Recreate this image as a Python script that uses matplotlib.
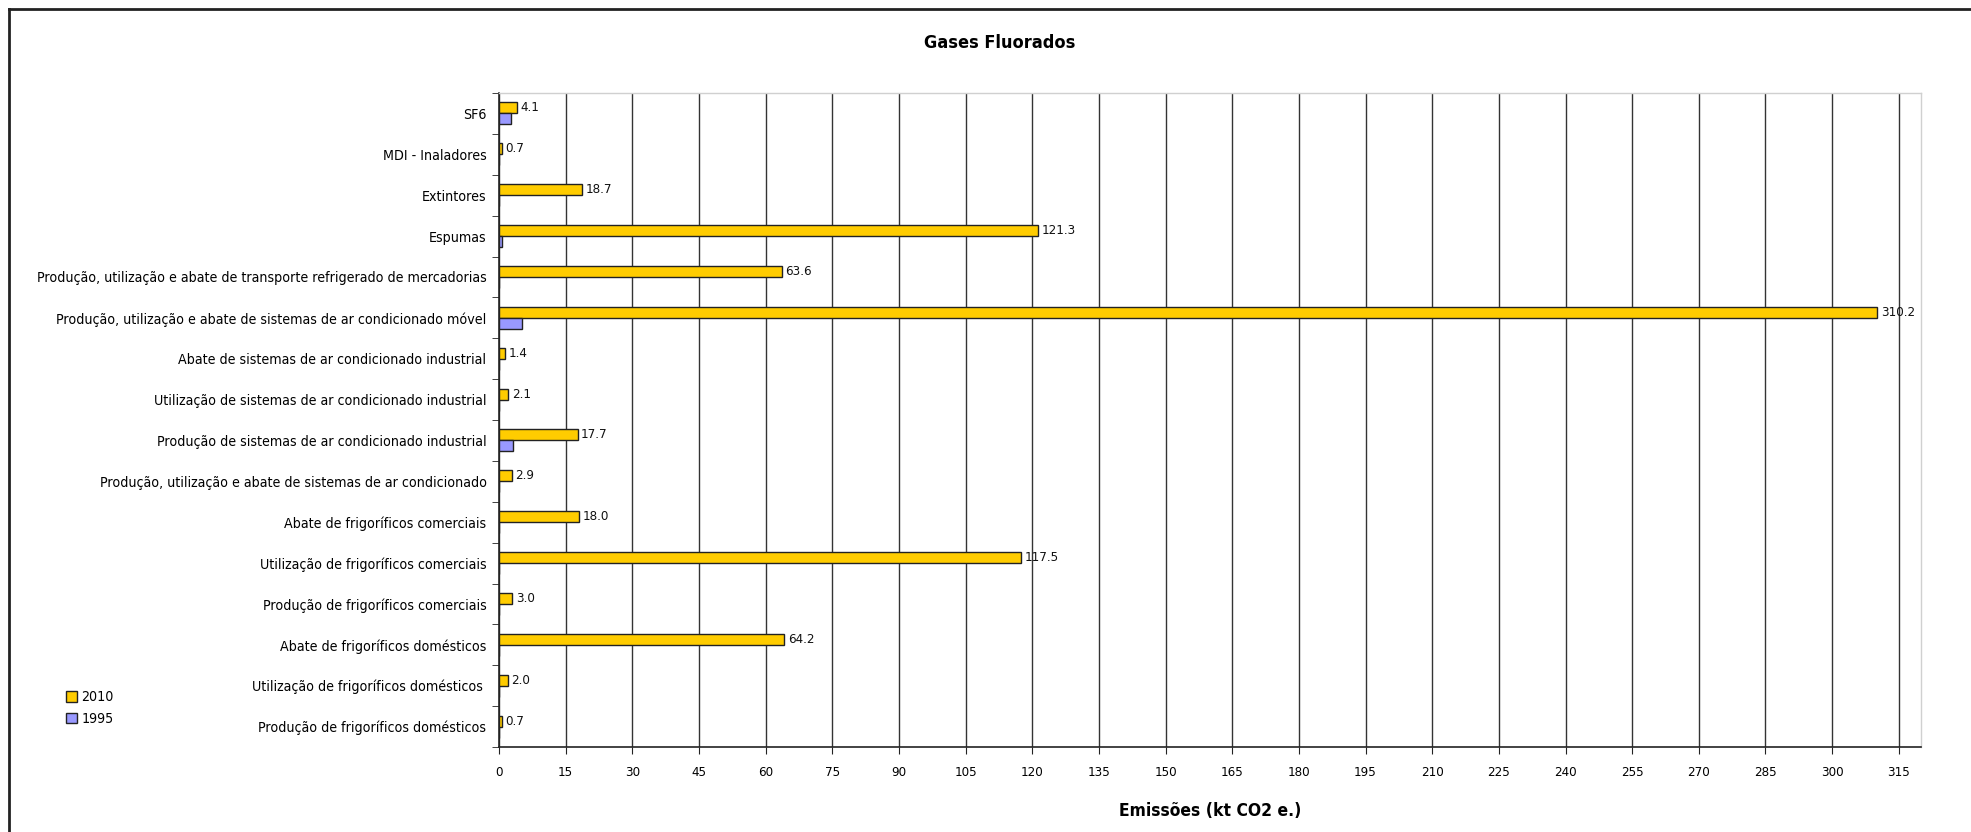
import matplotlib
matplotlib.use("Agg")
import matplotlib.pyplot as plt
from matplotlib.lines import Line2D
from matplotlib.patches import Patch
from matplotlib import font_manager as fm
import numpy as np

categories = [
    "Produção de frigoríficos domésticos",
    "Utilização de frigoríficos domésticos ",
    "Abate de frigoríficos domésticos",
    "Produção de frigoríficos comerciais",
    "Utilização de frigoríficos comerciais",
    "Abate de frigoríficos comerciais",
    "Produção, utilização e abate de sistemas de ar condicionado",
    "Produção de sistemas de ar condicionado industrial",
    "Utilização de sistemas de ar condicionado industrial",
    "Abate de sistemas de ar condicionado industrial",
    "Produção, utilização e abate de sistemas de ar condicionado móvel",
    "Produção, utilização e abate de transporte refrigerado de mercadorias",
    "Espumas",
    "Extintores",
    "MDI - Inaladores",
    "SF6",
]
values_2010 = [0.7, 2.0, 64.2, 3.0, 117.5, 18.0, 2.9, 17.7, 2.1, 1.4, 310.2, 63.6, 121.3, 18.7, 0.7, 4.1]
values_1995 = [0.0, 0.0, 0.0, 0.0, 0.0, 0.0, 0.0, 3.1, 0.0, 0.0, 5.2, 0.0, 0.7, 0.0, 0.0, 2.8]
series_names = ["2010", "1995"]
xticks = list(range(0, 316, 15))

# pick a condensed font if one is installed
cand = None
for f in fm.fontManager.ttflist:
    n = f.name.lower()
    if "narrow" in n or "condensed" in n or f.stretch in ("condensed", "semi-condensed"):
        if "mono" in n or ("serif" in n and "sans" not in n):
            continue
        cand = (f.name, f.stretch)
        if "liberation" in n or "dejavu" in n:
            break
if cand:
    plt.rcParams["font.family"] = [cand[0], "DejaVu Sans"]
    plt.rcParams["font.stretch"] = cand[1]
else:
    plt.rcParams["font.family"] = ["DejaVu Sans"]

W, H = 1971, 832
fig = plt.figure(figsize=(W / 100, H / 100), dpi=100)
ax = fig.add_axes([499 / W, 1 - 747 / H, (1921 - 499) / W, (747 - 93) / H])

# font size so that the longest label spans ~445 px like the reference
renderer = fig.canvas.get_renderer()
longest = max(categories, key=len)
t = fig.text(0, 0, longest, fontsize=12)
wpx = t.get_window_extent(renderer).width
t.remove()
lab_fs = min(12.0, 12.0 * 448.0 / wpx)

y = np.arange(len(categories))
h = 0.27
c2010 = "#FFCC00"
c1995 = "#9999FF"
ax.barh(y + h / 2, values_2010, height=h, color=c2010, edgecolor="#222222", linewidth=1.0, zorder=3)
ax.barh(y - h / 2, values_1995, height=h, color=c1995, edgecolor="#222222", linewidth=1.0, zorder=3)

for yi, v in zip(y, values_2010):
    ax.annotate(f"{v:.1f}", xy=(v, yi + h / 2), xytext=(2.5, 0), textcoords="offset points",
                va="center", ha="left", fontsize=9.5, color="#111111", zorder=4)

ax.set_xlim(0, 320)
ax.set_ylim(-0.5, len(categories) - 0.5)
ax.set_xticks(xticks)
ax.set_xticklabels([str(t) for t in xticks], fontsize=9.5)
ax.set_yticks(y)
ax.set_yticklabels(categories, fontsize=lab_fs)
ax.set_yticks(np.arange(-0.5, len(categories), 1.0), minor=True)
ax.tick_params(axis="y", which="major", length=0, pad=9)
ax.tick_params(axis="y", which="minor", length=5, direction="out", color="#222222")
ax.tick_params(axis="x", which="major", length=5, direction="out", color="#222222", pad=9)

ax.grid(axis="x", color="#333333", linewidth=1.0, zorder=0)
ax.set_axisbelow(True)
for s in ["top", "right"]:
    ax.spines[s].set_color("#d0d0d0")
    ax.spines[s].set_linewidth(1.0)
for s in ["left", "bottom"]:
    ax.spines[s].set_color("#222222")
    ax.spines[s].set_linewidth(1.2)

ax.set_xlabel("Emissões (kt CO2 e.)", fontsize=12.5, fontweight="bold", labelpad=16)

fig.text(1000 / W, 1 - 43 / H, "Gases Fluorados", ha="center", va="center",
         fontsize=13, fontweight="bold")

handles = [Patch(facecolor=c2010, edgecolor="#222222", label=series_names[0]),
           Patch(facecolor=c1995, edgecolor="#222222", label=series_names[1])]
fig.legend(handles=handles, loc="center left", bbox_to_anchor=(60 / W, 1 - 708 / H),
           frameon=False, fontsize=lab_fs, handlelength=0.8, handleheight=0.8,
           handletextpad=0.3, labelspacing=0.55, borderaxespad=0)

fig.add_artist(Line2D([9 / W, 9 / W], [0, 1 - 9 / H], transform=fig.transFigure,
                      color="#222222", linewidth=2))
fig.add_artist(Line2D([9 / W, 1], [1 - 9 / H, 1 - 9 / H], transform=fig.transFigure,
                      color="#222222", linewidth=2))

fig.savefig("out.png", dpi=100, facecolor="white")
